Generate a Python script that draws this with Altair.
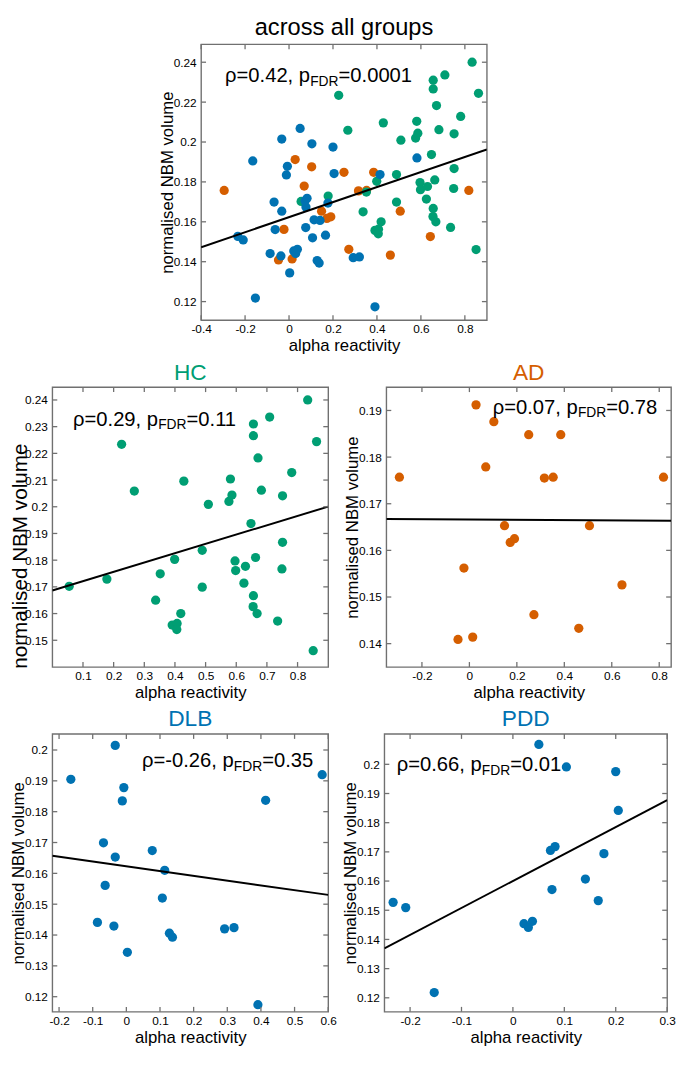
import altair as alt
import pandas as pd

FONT = "Liberation Sans"
FRAME = "#707070"
GROUPS = ["AD", "HC", "DLB", "PDD"]
COLORS = ["#D55E00", "#009E73", "#0072B2", "#0072B2"]

# ---- data ----
hc_x = [0.055, 0.178, 0.226, 0.2675, 0.337, 0.352, 0.399, 0.391, 0.407, 0.406,
        0.419, 0.429, 0.489, 0.489, 0.509, 0.576, 0.581, 0.586, 0.596, 0.598,
        0.630, 0.625, 0.648, 0.656, 0.656, 0.656, 0.655, 0.663, 0.668, 0.671,
        0.682, 0.709, 0.735, 0.751, 0.751, 0.749, 0.781, 0.833, 0.862, 0.851]
hc_y = [0.1702, 0.1729, 0.2234, 0.2059, 0.1650, 0.1749, 0.1803, 0.1557, 0.1563, 0.1540,
        0.1600, 0.2096, 0.1837, 0.1699, 0.2009, 0.2020, 0.2104, 0.2044, 0.1797, 0.1761,
        0.1777, 0.1714, 0.1937, 0.2310, 0.2266, 0.1667, 0.1626, 0.1810, 0.1600, 0.2183,
        0.2062, 0.2336, 0.1572, 0.2041, 0.1867, 0.1767, 0.2128, 0.2400, 0.2244, 0.1461]

ad_x = [-0.295, 0.028, 0.103, 0.069, 0.250, 0.385, 0.316, 0.353, 0.818, 0.148,
        0.172, 0.190, 0.506, -0.023, 0.643, 0.272, 0.461, -0.048, 0.014]
ad_y = [0.1757, 0.1912, 0.1876, 0.1779, 0.1848, 0.1848, 0.1755, 0.1757, 0.1757, 0.1653,
        0.1617, 0.1625, 0.1653, 0.1562, 0.1526, 0.1462, 0.1433, 0.1409, 0.1414]

dlb_x = [-0.165, -0.033, -0.0075, -0.012, -0.068, -0.033, 0.077, 0.114, -0.063, 0.107,
         -0.086, -0.037, 0.128, 0.137, 0.292, 0.320, 0.003, 0.391, 0.414, 0.582]
dlb_y = [0.1905, 0.2015, 0.1878, 0.1835, 0.1699, 0.1653, 0.1674, 0.1610, 0.1561, 0.1520,
         0.1441, 0.1429, 0.1406, 0.1393, 0.1420, 0.1424, 0.1344, 0.1174, 0.1837, 0.1920]

pdd_x = [0.0505, 0.104, 0.200, 0.205, 0.073, 0.082, 0.177, 0.141, 0.076, 0.166,
         -0.233, -0.2085, 0.0215, 0.030, 0.038, -0.153]
pdd_y = [0.2068, 0.1991, 0.1975, 0.1842, 0.1705, 0.1718, 0.1694, 0.1607, 0.1571, 0.1533,
         0.1527, 0.1509, 0.1454, 0.1441, 0.1462, 0.1218]

# statistics shown in the panels
stats_rho = ["0.42", "0.29", "0.07", "-0.26", "0.66"]
stats_p = ["0.0001", "0.11", "0.78", "0.35", "0.01"]

# tick values
top_xt = [-0.4, -0.2, 0, 0.2, 0.4, 0.6, 0.8]
top_yt = [0.12, 0.14, 0.16, 0.18, 0.2, 0.22, 0.24]
hc_xt = [0.1, 0.2, 0.3, 0.4, 0.5, 0.6, 0.7, 0.8]
hc_yt = [0.15, 0.16, 0.17, 0.18, 0.19, 0.2, 0.21, 0.22, 0.23, 0.24]
ad_xt = [-0.2, 0, 0.2, 0.4, 0.6, 0.8]
ad_yt = [0.14, 0.15, 0.16, 0.17, 0.18, 0.19]
dlb_xt = [-0.2, -0.1, 0, 0.1, 0.2, 0.3, 0.4, 0.5, 0.6]
dlb_yt = [0.12, 0.13, 0.14, 0.15, 0.16, 0.17, 0.18, 0.19, 0.2]
pdd_xt = [-0.2, -0.1, 0, 0.1, 0.2, 0.3]
pdd_yt = [0.12, 0.13, 0.14, 0.15, 0.16, 0.17, 0.18, 0.19, 0.2]


def frame(group, xs, ys):
    return pd.DataFrame({"x": xs, "y": ys, "group": [group] * len(xs)})


df_hc = frame("HC", hc_x, hc_y)
df_ad = frame("AD", ad_x, ad_y)
df_dlb = frame("DLB", dlb_x, dlb_y)
df_pdd = frame("PDD", pdd_x, pdd_y)
df_all = pd.concat([df_ad, df_hc, df_dlb, df_pdd], ignore_index=True)

LABEL_EXPR = "replace(format(datum.value, '.2~f'), '\u2212', '-')"


def label_axis(vals, orient, title, title_size=17, title_pad=3, title_y=None, lpad=4):
    kw = dict(values=vals, orient=orient, title=title, ticks=False, tickSize=0,
              domain=False, grid=False, labelExpr=LABEL_EXPR, labelFont=FONT,
              labelFontSize=12, labelColor="black", labelPadding=lpad,
              labelOverlap=False, labelFlush=False, titleFont=FONT,
              titleFontSize=title_size, titleFontWeight="normal", titleColor="black",
              titlePadding=title_pad, minExtent=0, maxExtent=200)
    if title_y is not None:
        kw["titleY"] = title_y
    return alt.Axis(**kw)


def text_layer(s, x, y, size, align="left", color="black"):
    return alt.Chart(pd.DataFrame({"t": [s]})).mark_text(
        align=align, baseline="alphabetic", font=FONT, fontSize=size, color=color
    ).encode(text="t:N", x=alt.value(x), y=alt.value(y))


def tick_rules(vals, scale, axis, channel, W, H, L=5):
    d = alt.Chart(pd.DataFrame({"v": vals})).mark_rule(color=FRAME, strokeWidth=1.3)
    if channel == "x":
        enc = dict(x=alt.X("v:Q", scale=scale, axis=axis))
        a = d.encode(y=alt.value(H), y2=alt.value(H - L), **enc)
        b = d.encode(y=alt.value(0), y2=alt.value(L), **enc)
    else:
        enc = dict(y=alt.Y("v:Q", scale=scale, axis=axis))
        a = d.encode(x=alt.value(0), x2=alt.value(L), **enc)
        b = d.encode(x=alt.value(W), x2=alt.value(W - L), **enc)
    return [a, b]


def panel(df, xdom, ydom, xt, yt, W, H, title, tcolor, rho, p, ax, ay,
          tsize=23, title_as_text=False, ytitle_size=17, ytitle_pad=-3, ytitle_y=None):
    xs = alt.Scale(domain=xdom, nice=False, zero=False)
    ys = alt.Scale(domain=ydom, nice=False, zero=False)
    cs = alt.Scale(domain=GROUPS, range=COLORS)
    xax = label_axis(xt, "bottom", "alpha reactivity")
    yax = label_axis(yt, "left", "normalised NBM volume", ytitle_size, ytitle_pad, ytitle_y, 5)
    pts = alt.Chart(df).mark_circle(size=88, opacity=1).encode(
        x=alt.X("x:Q", scale=xs, axis=xax),
        y=alt.Y("y:Q", scale=ys, axis=yax),
        color=alt.Color("group:N", scale=cs, legend=None),
    )
    line = alt.Chart(df).transform_regression("x", "y", extent=xdom).mark_line(
        color="black", strokeWidth=2, clip=True
    ).encode(
        x=alt.X("x:Q", scale=xs, axis=xax),
        y=alt.Y("y:Q", scale=ys, axis=yax),
    )
    fs, fsub = 20.5, 14
    s1 = "\u03c1=" + rho + ", p"
    w1 = (4.215 + (0.333 if rho.startswith("-") else 0)) * fs
    w2 = 2.055 * fsub
    t1 = text_layer(s1, ax, ay, fs)
    t2 = text_layer("FDR", ax + w1, ay + 3.5, fsub)
    t3 = text_layer("=" + p, ax + w1 + w2, ay, fs)
    ticks = tick_rules(xt, xs, xax, "x", W, H) + tick_rules(yt, ys, yax, "y", W, H)
    layers = [pts, line, *ticks, t1, t2, t3]
    if title_as_text:
        layers.append(text_layer(title, W / 2, -9, tsize, align="center", color=tcolor))
        return alt.layer(*layers).properties(width=W, height=H)
    return alt.layer(*layers).properties(
        width=W, height=H,
        title=alt.Title(title, color=tcolor, fontSize=tsize, font=FONT,
                        fontWeight="normal", offset=2, anchor="middle", frame="group"),
    )


top = panel(df_all, [-0.4, 0.9], [0.1107, 0.249], top_xt, top_yt, 290, 280,
            "across all groups", "black", stats_rho[0], stats_p[0], 24.3, 38.5,
            tsize=24, title_as_text=True)
hc = panel(df_hc, [0, 0.9], [0.14, 0.2448], hc_xt, hc_yt, 280, 284,
           "HC", "#009E73", stats_rho[1], stats_p[1], 21, 39,
           ytitle_size=21, ytitle_pad=-6, ytitle_y=171)
ad = panel(df_ad, [-0.35, 0.85], [0.135, 0.195], ad_xt, ad_yt, 289, 284,
           "AD", "#D55E00", stats_rho[2], stats_p[2], 108, 27)
dlb = panel(df_dlb, [-0.22, 0.6], [0.1151, 0.2052], dlb_xt, dlb_yt, 280, 282,
            "DLB", "#0072B2", stats_rho[3], stats_p[3], 91, 34)
pdd = panel(df_pdd, [-0.25, 0.3], [0.1152, 0.2104], pdd_xt, pdd_yt, 287, 282,
            "PDD", "#0072B2", stats_rho[4], stats_p[4], 12.5, 38)

spacer = alt.Chart(pd.DataFrame({"t": [""]})).mark_text().encode(
    text="t:N", x=alt.value(0), y=alt.value(0)
).properties(width=106, height=10, view=alt.ViewBackground(strokeOpacity=0))

top_row = alt.hconcat(spacer, top, spacing=0)
row2 = alt.hconcat(hc, ad, spacing=12)
row3 = alt.hconcat(dlb, pdd, spacing=2)

chart = alt.vconcat(top_row, alt.vconcat(row2, row3, spacing=6), spacing=6).properties(
    padding=0, background="white"
).configure_view(stroke=FRAME, strokeWidth=1.4)

chart.save("out.html", embed_options={"renderer": "svg", "actions": False})
